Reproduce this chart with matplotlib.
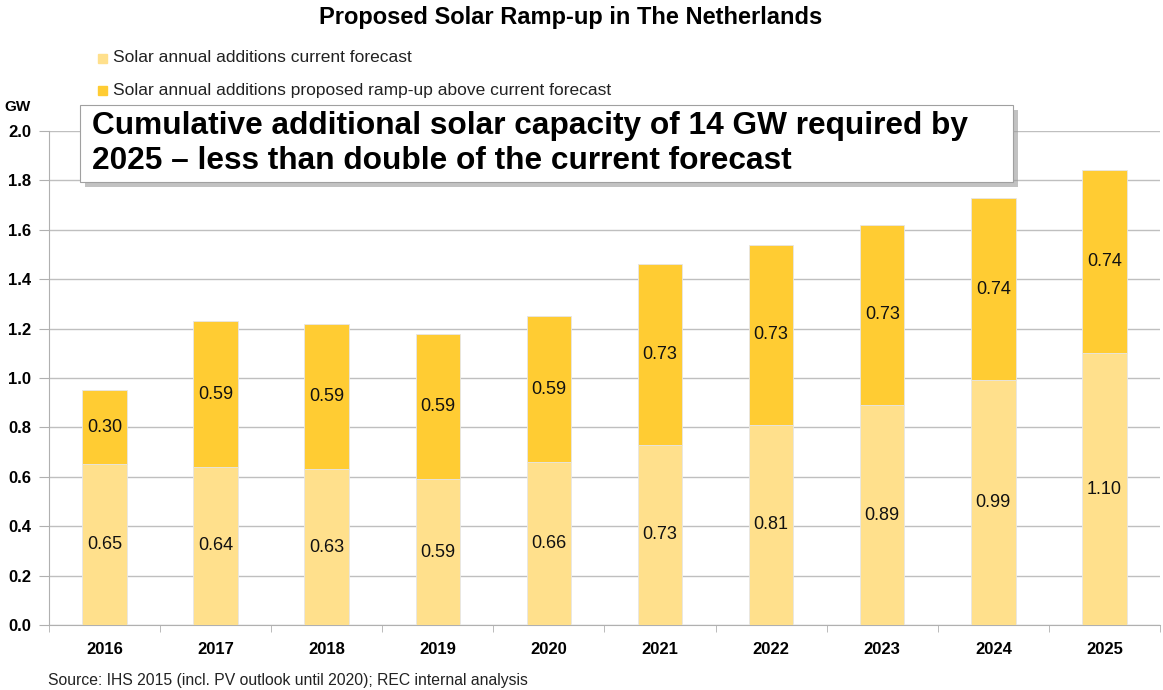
import matplotlib
matplotlib.use("Agg")
import matplotlib.pyplot as plt

plt.rcParams['font.family'] = ['Liberation Sans', 'DejaVu Sans']

years = ['2016', '2017', '2018', '2019', '2020', '2021', '2022', '2023', '2024', '2025']
current = [0.65, 0.64, 0.63, 0.59, 0.66, 0.73, 0.81, 0.89, 0.99, 1.10]
rampup = [0.30, 0.59, 0.59, 0.59, 0.59, 0.73, 0.73, 0.73, 0.74, 0.74]
yticks = [0.0, 0.2, 0.4, 0.6, 0.8, 1.0, 1.2, 1.4, 1.6, 1.8, 2.0]

c_light = '#FFE08C'
c_dark = '#FFCC33'

fig = plt.figure(figsize=(11.63, 6.9), dpi=100)
ax = fig.add_axes([0.0421, 0.0942, 0.9553, 0.716])

x = list(range(len(years)))
ax.bar(x, current, width=0.4, color=c_light, edgecolor='#E6E6E6', linewidth=0.6, zorder=3)
ax.bar(x, rampup, width=0.4, bottom=current, color=c_dark, edgecolor='#E6E6E6', linewidth=0.6, zorder=3)

for i in x:
    ax.text(i, current[i] / 2, f'{current[i]:.2f}', ha='center', va='center', fontsize=13, zorder=4, color='#111111')
    ax.text(i, current[i] + rampup[i] / 2, f'{rampup[i]:.2f}', ha='center', va='center', fontsize=13, zorder=4, color='#111111')

ax.set_xlim(-0.5, len(years) - 0.5)
ax.set_ylim(0, 2.0)
ax.set_yticks(yticks)
ax.set_yticklabels([f'{v:.1f}' for v in yticks], fontsize=12, fontweight='bold')
ax.set_xticks(x)
ax.set_xticklabels(years, fontsize=12, fontweight='bold')
ax.set_xticks([i + 0.5 for i in range(-1, len(years))], minor=True)
ax.tick_params(axis='x', which='major', length=0, pad=12)
ax.tick_params(axis='x', which='minor', length=5, color='#B0B0B0', direction='out')
ax.tick_params(axis='y', length=7, color='#B0B0B0', direction='out', pad=6)
ax.grid(axis='y', color='#BFBFBF', linewidth=1.0, zorder=0)
for s in ['top', 'right']:
    ax.spines[s].set_visible(False)
ax.spines['left'].set_color('#B0B0B0')
ax.spines['bottom'].set_color('#B0B0B0')

# GW unit label
fig.text(0.004, 0.845, 'GW', fontsize=11, fontweight='bold', ha='left', va='center')

# Title
fig.text(0.491, 0.974, 'Proposed Solar Ramp-up in The Netherlands', fontsize=17, fontweight='bold', ha='center', va='center')

# Legend
fig.patches.append(plt.Rectangle((0.0845, 0.909), 0.0075, 0.013, transform=fig.transFigure, color=c_light))
fig.text(0.0975, 0.916, 'Solar annual additions current forecast', fontsize=12.5, ha='left', va='center', color='#222222')
fig.patches.append(plt.Rectangle((0.0845, 0.862), 0.0075, 0.013, transform=fig.transFigure, color=c_dark))
fig.text(0.0975, 0.869, 'Solar annual additions proposed ramp-up above current forecast', fontsize=12.5, ha='left', va='center', color='#222222')

# Callout box with shadow
bx, by, bw, bh = 80 / 1163, 1 - 182 / 690, (1013 - 80) / 1163, (182 - 105) / 690
shadow = plt.Rectangle((bx + 0.004, by - 0.007), bw, bh, transform=fig.transFigure,
                       facecolor='#9A9A9A', edgecolor='none', alpha=0.6, zorder=5)
fig.patches.append(shadow)
box = plt.Rectangle((bx, by), bw, bh, transform=fig.transFigure,
                    facecolor='white', edgecolor='#A0A0A0', linewidth=0.8, zorder=6)
fig.patches.append(box)
fig.text(bx + 0.010, by + bh / 2,
         'Cumulative additional solar capacity of 14 GW required by\n2025 \u2013 less than double of the current forecast',
         fontsize=22.8, fontweight='bold', ha='left', va='center', linespacing=1.2, zorder=7)

# Source
fig.text(0.041, 0.014, 'Source: IHS 2015 (incl. PV outlook until 2020); REC internal analysis',
         fontsize=11.3, ha='left', va='center', color='#222222')

fig.savefig('out.png', dpi=100)
